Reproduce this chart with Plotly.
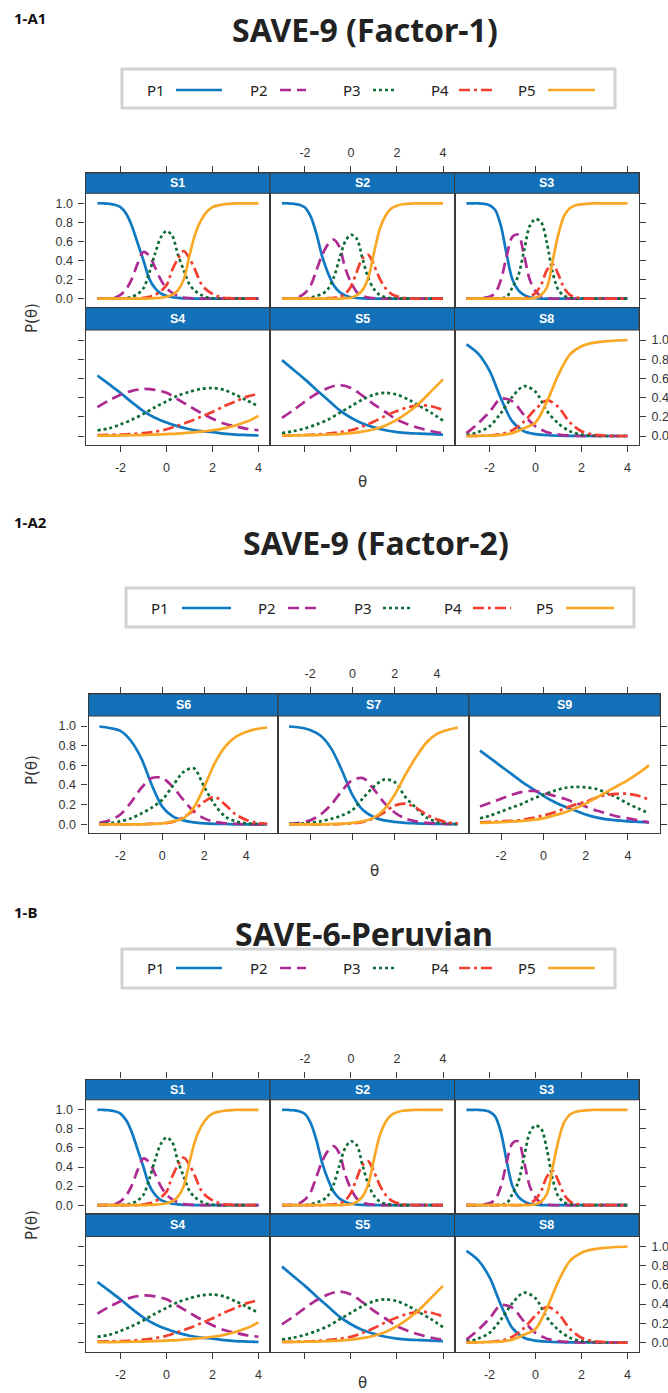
import plotly.graph_objects as go

W, H = 668, 1393

# ---------------- data ----------------
THETA_Q = [-3, -2.75, -2.5, -2.25, -2, -1.75, -1.5, -1.25, -1, -0.75, -0.5, -0.25, 0,
           0.25, 0.5, 0.75, 1, 1.25, 1.5, 1.75, 2, 2.25, 2.5, 2.75, 3, 3.25, 3.5, 3.75, 4]
THETA_H = [-3, -2.5, -2, -1.5, -1, -0.5, 0, 0.5, 1, 1.5, 2, 2.5, 3, 3.5, 4]
THETA_H5 = [-3, -2.5, -2, -1.5, -1, -0.5, 0, 0.5, 1, 1.5, 2, 2.5, 3, 3.5, 4, 4.5, 5]

CATEGORIES = ["P1", "P2", "P3", "P4", "P5"]
X_TICKS = [-2, 0, 2, 4]
X_TICK_TEXT = ["-2", "0", "2", "4"]
Y_TICKS = [0, 0.2, 0.4, 0.6, 0.8, 1.0]
Y_TICK_TEXT = ["0.0", "0.2", "0.4", "0.6", "0.8", "1.0"]

S1 = {
    "P1": [1.0, 1.0, 0.995, 0.985, 0.96, 0.89, 0.76, 0.58, 0.40, 0.21, 0.11, 0.055, 0.03, 0.015, 0.008, 0.004, 0.002,
           0, 0, 0, 0, 0, 0, 0, 0, 0, 0, 0, 0],
    "P2": [0, 0, 0.003, 0.01, 0.04, 0.10, 0.21, 0.37, 0.49, 0.45, 0.33, 0.20, 0.11, 0.06, 0.03, 0.012, 0.005, 0.002,
           0, 0, 0, 0, 0, 0, 0, 0, 0, 0, 0],
    "P3": [0, 0, 0, 0, 0, 0.005, 0.02, 0.05, 0.11, 0.27, 0.47, 0.64, 0.71, 0.66, 0.46, 0.30, 0.15, 0.08, 0.04, 0.015,
           0.005, 0, 0, 0, 0, 0, 0, 0, 0],
    "P4": [0, 0, 0, 0, 0, 0, 0, 0, 0.01, 0.02, 0.04, 0.08, 0.14, 0.30, 0.42, 0.50, 0.42, 0.30, 0.16, 0.09, 0.05, 0.025,
           0.01, 0.005, 0, 0, 0, 0, 0],
    "P5": [0, 0, 0, 0, 0, 0, 0, 0, 0, 0.002, 0.005, 0.01, 0.02, 0.04, 0.09, 0.20, 0.45, 0.68, 0.82, 0.91, 0.96, 0.978,
           0.99, 0.995, 1.0, 1.0, 1.0, 1.0, 1.0],
}
S2 = {
    "P1": [1.0, 1.0, 0.995, 0.985, 0.955, 0.86, 0.68, 0.44, 0.27, 0.14, 0.07, 0.035, 0.015, 0.007, 0.003,
           0, 0, 0, 0, 0, 0, 0, 0, 0, 0, 0, 0, 0, 0],
    "P2": [0, 0, 0.005, 0.02, 0.06, 0.14, 0.30, 0.46, 0.57, 0.62, 0.54, 0.32, 0.17, 0.07, 0.03, 0.012, 0.005,
           0, 0, 0, 0, 0, 0, 0, 0, 0, 0, 0, 0],
    "P3": [0, 0, 0, 0, 0, 0.01, 0.03, 0.05, 0.10, 0.22, 0.42, 0.60, 0.67, 0.63, 0.42, 0.22, 0.10, 0.04, 0.015, 0.005,
           0, 0, 0, 0, 0, 0, 0, 0, 0],
    "P4": [0, 0, 0, 0, 0, 0, 0, 0, 0.005, 0.01, 0.02, 0.05, 0.13, 0.28, 0.42, 0.46, 0.35, 0.21, 0.11, 0.05, 0.025,
           0.01, 0.005, 0, 0, 0, 0, 0, 0],
    "P5": [0, 0, 0, 0, 0, 0, 0, 0, 0, 0, 0, 0.005, 0.01, 0.035, 0.09, 0.22, 0.48, 0.73, 0.87, 0.945, 0.975, 0.99,
           0.995, 1.0, 1.0, 1.0, 1.0, 1.0, 1.0],
}
S3 = {
    "P1": [1.0, 1.0, 1.0, 0.995, 0.98, 0.93, 0.76, 0.46, 0.20, 0.09, 0.04, 0.015, 0.005,
           0, 0, 0, 0, 0, 0, 0, 0, 0, 0, 0, 0, 0, 0, 0, 0],
    "P2": [0, 0, 0, 0.01, 0.02, 0.06, 0.20, 0.45, 0.65, 0.67, 0.46, 0.20, 0.08, 0.025, 0.01,
           0, 0, 0, 0, 0, 0, 0, 0, 0, 0, 0, 0, 0, 0],
    "P3": [0, 0, 0, 0, 0, 0, 0.005, 0.02, 0.12, 0.24, 0.50, 0.76, 0.835, 0.80, 0.58, 0.27, 0.09, 0.03, 0.01,
           0, 0, 0, 0, 0, 0, 0, 0, 0, 0],
    "P4": [0, 0, 0, 0, 0, 0, 0, 0, 0, 0, 0.005, 0.02, 0.06, 0.15, 0.30, 0.36, 0.25, 0.11, 0.04, 0.015, 0.005,
           0, 0, 0, 0, 0, 0, 0, 0],
    "P5": [0, 0, 0, 0, 0, 0, 0, 0, 0, 0, 0, 0, 0.01, 0.04, 0.12, 0.40, 0.68, 0.87, 0.95, 0.98, 0.99, 0.995,
           1.0, 1.0, 1.0, 1.0, 1.0, 1.0, 1.0],
}
S4 = {
    "P1": [0.63, 0.54, 0.45, 0.35, 0.26, 0.19, 0.14, 0.10, 0.07, 0.05, 0.04, 0.025, 0.015, 0.01, 0.005],
    "P2": [0.30, 0.37, 0.43, 0.47, 0.49, 0.48, 0.45, 0.38, 0.31, 0.24, 0.18, 0.13, 0.10, 0.075, 0.06],
    "P3": [0.06, 0.08, 0.12, 0.17, 0.23, 0.30, 0.36, 0.42, 0.46, 0.49, 0.50, 0.48, 0.43, 0.37, 0.31],
    "P4": [0.01, 0.012, 0.015, 0.02, 0.03, 0.045, 0.07, 0.11, 0.15, 0.20, 0.25, 0.31, 0.36, 0.41, 0.44],
    "P5": [0.003, 0.004, 0.006, 0.008, 0.01, 0.015, 0.02, 0.025, 0.035, 0.045, 0.06, 0.08, 0.11, 0.15, 0.21],
}
S5 = {
    "P1": [0.79, 0.69, 0.59, 0.48, 0.375, 0.27, 0.19, 0.13, 0.09, 0.06, 0.04, 0.03, 0.025, 0.02, 0.015],
    "P2": [0.19, 0.27, 0.36, 0.44, 0.50, 0.53, 0.50, 0.42, 0.33, 0.25, 0.17, 0.12, 0.08, 0.05, 0.03],
    "P3": [0.03, 0.05, 0.08, 0.12, 0.17, 0.24, 0.31, 0.38, 0.43, 0.45, 0.43, 0.38, 0.31, 0.24, 0.16],
    "P4": [0.005, 0.007, 0.01, 0.015, 0.025, 0.04, 0.06, 0.10, 0.15, 0.21, 0.26, 0.30, 0.32, 0.31, 0.27],
    "P5": [0.005, 0.006, 0.008, 0.01, 0.015, 0.02, 0.03, 0.045, 0.07, 0.11, 0.17, 0.25, 0.35, 0.47, 0.59],
}
S8 = {
    "P1": [0.955, 0.86, 0.68, 0.39, 0.15, 0.05, 0.02, 0.008, 0.003, 0.002, 0.001, 0, 0, 0, 0],
    "P2": [0.03, 0.13, 0.25, 0.39, 0.36, 0.22, 0.10, 0.04, 0.015, 0.005, 0, 0, 0, 0, 0],
    "P3": [0.01, 0.04, 0.10, 0.24, 0.41, 0.52, 0.46, 0.26, 0.13, 0.05, 0.015, 0.005, 0, 0, 0],
    "P4": [0, 0.002, 0.005, 0.02, 0.06, 0.15, 0.28, 0.37, 0.30, 0.14, 0.05, 0.015, 0.005, 0, 0],
    "P5": [0, 0.002, 0.005, 0.01, 0.03, 0.08, 0.14, 0.36, 0.64, 0.85, 0.935, 0.97, 0.985, 0.995, 1.0],
}
S6 = {
    "P1": [0.995, 0.98, 0.95, 0.85, 0.67, 0.40, 0.18, 0.08, 0.04, 0.02, 0.01, 0.005, 0.003, 0, 0, 0, 0],
    "P2": [0.015, 0.04, 0.10, 0.22, 0.37, 0.47, 0.47, 0.38, 0.25, 0.13, 0.06, 0.025, 0.01, 0.005, 0, 0, 0],
    "P3": [0.005, 0.01, 0.03, 0.06, 0.11, 0.17, 0.25, 0.39, 0.53, 0.57, 0.38, 0.20, 0.08, 0.03, 0.01, 0.005, 0],
    "P4": [0, 0, 0, 0, 0, 0.005, 0.01, 0.025, 0.07, 0.14, 0.23, 0.28, 0.20, 0.10, 0.045, 0.015, 0.005],
    "P5": [0, 0, 0, 0, 0, 0.003, 0.01, 0.03, 0.06, 0.17, 0.38, 0.62, 0.79, 0.89, 0.94, 0.97, 0.985],
}
S7 = {
    "P1": [0.995, 0.985, 0.96, 0.90, 0.77, 0.55, 0.30, 0.145, 0.075, 0.04, 0.025, 0.015, 0.01, 0.006, 0.004, 0.002, 0.001],
    "P2": [0.005, 0.015, 0.04, 0.10, 0.20, 0.34, 0.45, 0.47, 0.36, 0.22, 0.12, 0.06, 0.03, 0.015, 0.008, 0.004, 0.002],
    "P3": [0.003, 0.007, 0.015, 0.03, 0.055, 0.09, 0.145, 0.265, 0.38, 0.455, 0.43, 0.28, 0.17, 0.07, 0.025, 0.01, 0.003],
    "P4": [0, 0, 0, 0, 0, 0.003, 0.01, 0.025, 0.06, 0.12, 0.19, 0.21, 0.17, 0.10, 0.05, 0.02, 0.008],
    "P5": [0, 0, 0, 0, 0.003, 0.007, 0.015, 0.03, 0.065, 0.15, 0.30, 0.50, 0.68, 0.83, 0.92, 0.96, 0.985],
}
S9 = {
    "P1": [0.75, 0.67, 0.59, 0.51, 0.43, 0.36, 0.29, 0.23, 0.18, 0.14, 0.10, 0.07, 0.05, 0.04, 0.03, 0.025, 0.02],
    "P2": [0.18, 0.22, 0.26, 0.30, 0.33, 0.34, 0.32, 0.29, 0.26, 0.22, 0.18, 0.14, 0.11, 0.08, 0.06, 0.04, 0.02],
    "P3": [0.06, 0.09, 0.13, 0.17, 0.21, 0.26, 0.30, 0.34, 0.37, 0.38, 0.375, 0.36, 0.32, 0.27, 0.21, 0.16, 0.11],
    "P4": [0.02, 0.025, 0.03, 0.035, 0.045, 0.065, 0.09, 0.12, 0.16, 0.20, 0.23, 0.27, 0.30, 0.31, 0.31, 0.29, 0.25],
    "P5": [0.015, 0.018, 0.022, 0.028, 0.035, 0.045, 0.06, 0.09, 0.12, 0.16, 0.21, 0.27, 0.33, 0.39, 0.45, 0.52, 0.60],
}

SECTION_LABELS = ["1-A1", "1-A2", "1-B"]
SECTION_TITLES = ["SAVE-9 (Factor-1)", "SAVE-9 (Factor-2)", "SAVE-6-Peruvian"]

# ---------------- styles ----------------
COLORS = {"P1": "#0F79C2", "P2": "#AE2A93", "P3": "#0E6B35", "P4": "#F23D2F", "P5": "#F9A826"}
DASHES = {"P1": "solid", "P2": "11px,6px", "P3": "3px,3px", "P4": "11px,4px,3px,4px", "P5": "solid"}
STRIP = "#1271B9"
FRAME = "#3a3a3a"
TICKFONT = dict(family="Liberation Sans, Arial, sans-serif", size=12.5, color="#333")
LW = 2.7


def pxx(x):
    return x / W


def pyy(y):
    return 1 - y / H


fig = go.Figure()
layout = {}
shapes = []
annotations = []

A1_COLS = [85.5, 270, 454.5, 639]
A2_COLS = [88.5, 278, 469, 660]
OFF_B = 906.5
A1_ROWS = [(173, 193.3, 307.7, 203.3, 298.7), (307.7, 330, 445, 340, 436)]
A2_ROW = (694, 716, 833, 726, 824.3)

panels = []
for sec, off in (("A1", 0.0), ("B", OFF_B)):
    grid = [[("S1", S1, THETA_Q), ("S2", S2, THETA_Q), ("S3", S3, THETA_Q)],
            [("S4", S4, THETA_H), ("S5", S5, THETA_H), ("S8", S8, THETA_H)]]
    for r in range(2):
        top, sb, bot, y1, y0 = [v + off for v in A1_ROWS[r]]
        for c in range(3):
            name, d, th = grid[r][c]
            panels.append(dict(sec=sec, name=name, data=d, theta=th, col=c + 1, row=r + 1,
                               x0=A1_COLS[c], x1=A1_COLS[c + 1], top=top, sb=sb, bot=bot, y1=y1, y0=y0,
                               xr=[-3.52, 4.5]))
for c, (name, d) in enumerate((("S6", S6), ("S7", S7), ("S9", S9))):
    top, sb, bot, y1, y0 = A2_ROW
    panels.append(dict(sec="A2", name=name, data=d, theta=THETA_H5, col=c + 1, row=1,
                       x0=A2_COLS[c], x1=A2_COLS[c + 1], top=top, sb=sb, bot=bot, y1=y1, y0=y0,
                       xr=[-3.52, 5.52]))

for i, p in enumerate(panels, start=1):
    sx = "" if i == 1 else str(i)
    unit = p["y0"] - p["y1"]
    ylo = -(p["bot"] - p["y0"]) / unit
    yhi = 1 + (p["y1"] - p["top"]) / unit
    col, row, sec = p["col"], p["row"], p["sec"]

    xa = dict(domain=[pxx(p["x0"]), pxx(p["x1"])], range=p["xr"], anchor="y" + sx,
              showgrid=False, zeroline=False, showline=True, linecolor=FRAME, linewidth=1.2,
              tickvals=X_TICKS, ticktext=X_TICK_TEXT, ticklen=6, tickcolor=FRAME, tickwidth=1,
              tickfont=TICKFONT, ticks="outside")
    ya = dict(domain=[pyy(p["bot"]), pyy(p["top"])], range=[ylo, yhi], anchor="x" + sx,
              showgrid=False, zeroline=False, showline=True, linecolor=FRAME, linewidth=1.2,
              mirror=True, tickvals=Y_TICKS, ticktext=Y_TICK_TEXT, ticklen=6, tickcolor=FRAME,
              tickwidth=1, tickfont=TICKFONT, ticklabelstandoff=3)
    if sec in ("A1", "B"):
        xa["mirror"] = True
        if row == 1:
            xa.update(side="top", showticklabels=(col == 2), ticklabelstandoff=4)
        else:
            xa.update(side="bottom", showticklabels=(col != 2), ticklabelstandoff=5)
        if col == 1:
            ya.update(side="left", ticks="outside", showticklabels=(row == 1))
        elif col == 3:
            ya.update(side="right", ticks="outside", showticklabels=(row == 2))
        else:
            ya.update(ticks="", showticklabels=False)
    else:
        xa["mirror"] = "allticks"
        if col == 2:
            xa.update(side="top", showticklabels=True, ticklabelstandoff=4)
        else:
            xa.update(side="bottom", showticklabels=True, ticklabelstandoff=5)
        if col == 1:
            ya.update(side="left", ticks="outside", showticklabels=True)
        elif col == 3:
            ya.update(side="right", ticks="outside", showticklabels=False)
        else:
            ya.update(ticks="", showticklabels=False)
    layout["xaxis" + sx] = xa
    layout["yaxis" + sx] = ya

    for cat in CATEGORIES:
        fig.add_trace(go.Scatter(
            x=p["theta"], y=p["data"][cat], mode="lines", name=cat, showlegend=False,
            line=dict(color=COLORS[cat], width=LW, dash=DASHES[cat], shape="spline", smoothing=0.9),
            xaxis="x" + sx, yaxis="y" + sx, hoverinfo="skip"))

    shapes.append(dict(type="rect", xref="paper", yref="paper",
                       x0=pxx(p["x0"]), x1=pxx(p["x1"]), y0=pyy(p["sb"]), y1=pyy(p["top"]),
                       fillcolor=STRIP, line=dict(color=FRAME, width=1), layer="above"))
    annotations.append(dict(xref="paper", yref="paper", x=pxx((p["x0"] + p["x1"]) / 2),
                            y=pyy((p["top"] + p["sb"]) / 2), text="<b>%s</b>" % p["name"], showarrow=False,
                            xanchor="center", yanchor="middle",
                            font=dict(family="Liberation Sans, Arial, sans-serif", size=12.5, color="white")))

HEAD = [
    dict(ly=18, tx=365, ty=29, box=(122, 615, 69, 108), ly_items=90,
         items=[(156, 176, 222), (259, 280, 306), (352, 373, 397), (440, 459, 496), (527, 548, 595)],
         yt=318, xtx=362, xty=482),
    dict(ly=522, tx=376, ty=543, box=(126, 634, 588, 627), ly_items=608,
         items=[(160, 182, 231), (267, 288, 316), (363, 383, 411), (453, 473, 511), (545, 566, 614)],
         yt=770, xtx=374, xty=871),
    dict(ly=912, tx=364, ty=933, box=(122, 615, 949, 988), ly_items=968,
         items=[(156, 176, 222), (259, 280, 306), (352, 373, 397), (440, 459, 496), (527, 548, 595)],
         yt=1225, xtx=362, xty=1383),
]

for k, h in enumerate(HEAD):
    annotations.append(dict(xref="paper", yref="paper", x=pxx(12), y=pyy(h["ly"]), text="<b>%s</b>" % SECTION_LABELS[k],
                            showarrow=False, xanchor="left", yanchor="middle",
                            font=dict(family="Noto Sans, Liberation Sans, sans-serif", size=15, color="#111")))
    annotations.append(dict(xref="paper", yref="paper", x=pxx(h["tx"]), y=pyy(h["ty"]),
                            text="<b>%s</b>" % SECTION_TITLES[k], showarrow=False,
                            xanchor="center", yanchor="middle",
                            font=dict(family="Noto Sans, Inter, sans-serif", size=32, color="#222")))
    bx0, bx1, by0, by1 = h["box"]
    shapes.append(dict(type="rect", xref="paper", yref="paper", x0=pxx(bx0), x1=pxx(bx1),
                       y0=pyy(by1), y1=pyy(by0), fillcolor="white",
                       line=dict(color="#d2d2d2", width=3), layer="below"))
    for cat, (tx, lx0, lx1) in zip(CATEGORIES, h["items"]):
        annotations.append(dict(xref="paper", yref="paper", x=pxx(tx), y=pyy(h["ly_items"]), text=cat,
                                showarrow=False, xanchor="center", yanchor="middle",
                                font=dict(family="Noto Sans, Liberation Sans, sans-serif", size=15, color="#222")))
        shapes.append(dict(type="line", xref="paper", yref="paper", x0=pxx(lx0), x1=pxx(lx1),
                           y0=pyy(h["ly_items"]), y1=pyy(h["ly_items"]), layer="above",
                           line=dict(color=COLORS[cat], width=LW, dash=DASHES[cat])))
    annotations.append(dict(xref="paper", yref="paper", x=pxx(32), y=pyy(h["yt"]), text="P(θ)",
                            showarrow=False, textangle=-90, xanchor="center", yanchor="middle",
                            font=dict(family="DejaVu Sans, sans-serif", size=15, color="#333")))
    annotations.append(dict(xref="paper", yref="paper", x=pxx(h["xtx"]), y=pyy(h["xty"]), text="θ",
                            showarrow=False, xanchor="center", yanchor="middle",
                            font=dict(family="DejaVu Sans, sans-serif", size=15, color="#333")))

layout.update(width=W, height=H, margin=dict(l=0, r=0, t=0, b=0), paper_bgcolor="white",
              plot_bgcolor="white", showlegend=False, shapes=shapes, annotations=annotations)
fig.update_layout(**layout)
fig.write_html("out.html", config={"displayModeBar": False})

# remove the browser's default page margin so the figure sits at the window origin
with open("out.html", "r", encoding="utf-8") as f:
    html = f.read()
html = html.replace("<head>", "<head><style>html,body{margin:0;padding:0;overflow:hidden;}</style>", 1)
with open("out.html", "w", encoding="utf-8") as f:
    f.write(html)
